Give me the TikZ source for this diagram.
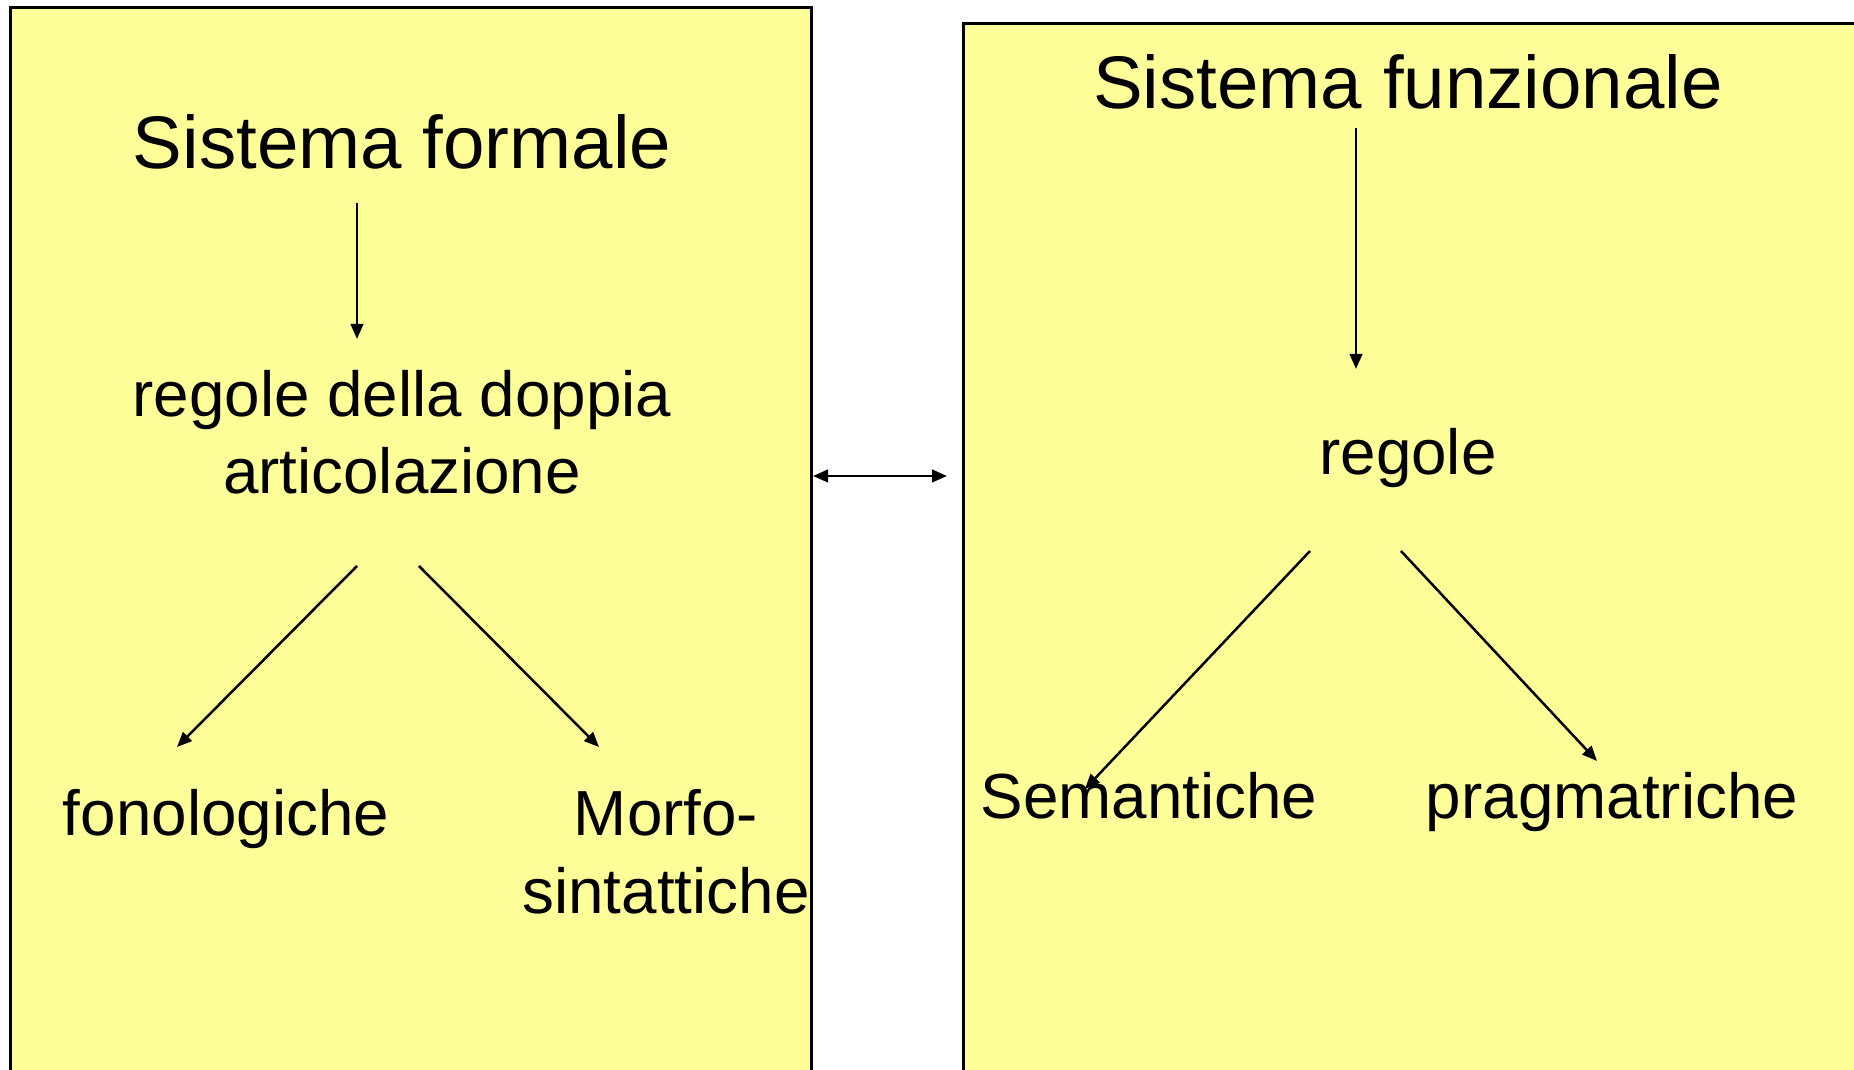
\documentclass[tikz,border=0pt]{standalone}
\usepackage{fontspec}
\setmainfont{Liberation Sans}
\usetikzlibrary{arrows.meta}
\definecolor{slideyellow}{RGB}{255,255,153}

\begin{document}
\begin{tikzpicture}[
        x=0.4pt, y=-0.4pt,
        every node/.style={inner sep=0pt, anchor=base},
        heading/.style={font=\fontsize{29.8}{36}\selectfont},
        rule/.style={font=\fontsize{25.5}{30.8}\selectfont, align=center},
        panel/.style={fill=slideyellow, draw=black, line width=1.2pt},
        tip/.style={Triangle[length=6pt,width=5pt]},
        link/.style={-{Triangle[length=6pt,width=5pt]}, line width=1pt}
        ]
        \useasboundingbox (0,0) rectangle (1854,1070);
        \clip (0,0) rectangle (1854,1070);

        % Draw the panels
        \draw[panel] (10,8) rectangle (811,1100);
        \draw[panel] (963,24) rectangle (1900,1100);

        % Define the nodes
        \node[heading] (formale) at (402,169) {Sistema formale};
        \node[rule] (doppia) at (402,494) {regole della doppia\\articolazione};
        \node[rule] (fono) at (226,836) {fonologiche};
        \node[rule] (morfo) at (666,913) {Morfo-\\sintattiche};
        \node[heading] (funz) at (1408,109) {Sistema funzionale};
        \node[rule] (regole) at (1408,475) {regole};
        \node[rule] (sem) at (1149,819) {Semantiche};
        \node[rule] (prag) at (1612,819) {pragmatriche};

        % Arrow ends
        \coordinate (a1) at (357,203);  \coordinate (b1) at (357,339);
        \coordinate (a2) at (357,566);  \coordinate (b2) at (177,747);
        \coordinate (a3) at (419,566);  \coordinate (b3) at (599,747);
        \coordinate (a4) at (813,476);  \coordinate (b4) at (947,476);
        \coordinate (a5) at (1356,128); \coordinate (b5) at (1356,369);
        \coordinate (a6) at (1310,551); \coordinate (b6) at (1085,789);
        \coordinate (a7) at (1401,551); \coordinate (b7) at (1597,761);

        % Draw the arrows
        \draw[link] (a1) -- (b1);
        \draw[link] (a2) -- (b2);
        \draw[link] (a3) -- (b3);
        \draw[link, {Triangle[length=6pt,width=5pt]}-{Triangle[length=6pt,width=5pt]}] (a4) -- (b4);
        \draw[link] (a5) -- (b5);
        \draw[link] (a6) -- (b6);
        \draw[link] (a7) -- (b7);
    \end{tikzpicture}
\end{document}
